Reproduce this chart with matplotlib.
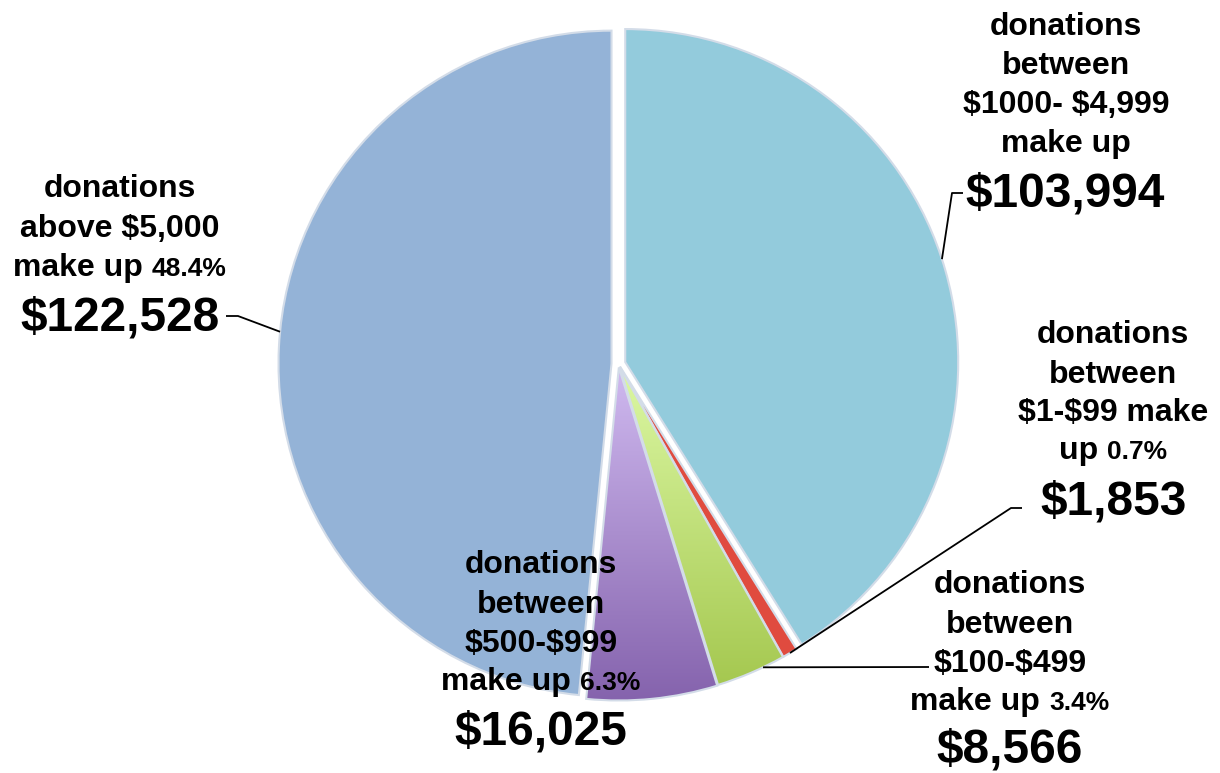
import numpy as np
import matplotlib
matplotlib.use("Agg")
import matplotlib.pyplot as plt
from matplotlib.colors import to_rgb

plt.rcParams['text.parse_math'] = False

# ---------------- data ----------------
ranges = ["$1000- $4,999", "$1-$99", "$100-$499", "$500-$999", "above $5,000"]
amounts = [103994, 1853, 8566, 16025, 122528]
amount_labels = ["$103,994", "$1,853", "$8,566", "$16,025", "$122,528"]

total = sum(amounts)
pct_text = ["%.1f%%" % (100.0 * a / total) for a in amounts]

# ---------------- figure ----------------
W, H = 1220, 773
fig = plt.figure(figsize=(12.2, 7.73), dpi=100)
ax = fig.add_axes([0, 0, 1, 1])


def Y(y):
    return H - y


CX, CY, R = 618.5, Y(364), 333
colors = ['#93CBDC', '#E04B3F', '#C4E27C', '#AD8FD3', '#94B3D7']
explode_px = [7, 3, 3, 3.5, 7]
wedges, _ = ax.pie(amounts, colors=colors, startangle=90, counterclock=False,
                   center=(CX, CY), radius=R, explode=explode_px,
                   wedgeprops=dict(edgecolor='#d3dce8', linewidth=1.5))

# gradient fills for green and purple slices
grads = {2: ('#DCF8A4', '#A5C850'), 3: ('#D0BAF0', '#8563AD')}
for i, (top, bot) in grads.items():
    w = wedges[i]
    ext = w.get_path().get_extents()
    n = 256
    t = np.linspace(0, 1, n)[:, None, None]
    img = (1 - t) * np.array(to_rgb(top))[None, None, :] + t * np.array(to_rgb(bot))[None, None, :]
    im = ax.imshow(img, extent=(ext.x0, ext.x1, ext.y0, ext.y1), origin='upper',
                   aspect='auto', interpolation='bilinear', zorder=w.get_zorder() + 0.5)
    im.set_clip_path(w)
    w.set_zorder(w.get_zorder() + 1)
    w.set_facecolor('none')

ax.set_xlim(0, W)
ax.set_ylim(0, H)
ax.set_aspect('auto')
ax.axis('off')


def edge_point(i, ang):
    w = wedges[i]
    cx, cy = w.center
    a = np.deg2rad(ang)
    return cx + w.r * np.cos(a), cy + w.r * np.sin(a)


def mid_angle(i):
    w = wedges[i]
    return 0.5 * (w.theta1 + w.theta2)


# ---------------- leader lines ----------------
lk = dict(color='black', lw=1.3, zorder=6, solid_capstyle='butt')
p = edge_point(0, 18)
ax.plot([p[0], 952, 963], [p[1], Y(193), Y(193)], **lk)
p = edge_point(4, 174.5)
ax.plot([p[0], 238, 226], [p[1], Y(316), Y(316)], **lk)
p = edge_point(1, mid_angle(1))
ax.plot([p[0], 1011, 1022], [p[1], Y(508), Y(508)], **lk)
p = edge_point(2, -64.5)
ax.plot([p[0], 929], [p[1], Y(667)], **lk)

# ---------------- labels ----------------
FAM = ['Liberation Sans', 'DejaVu Sans']
BODY, PCT, BIG = 23, 19, 34.5
renderer = fig.canvas.get_renderer()


def draw_line(parts, cx, baseline):
    objs = []
    for s, fs in parts:
        objs.append(ax.text(0, Y(baseline), s, fontsize=fs, fontweight='bold',
                            family=FAM, va='baseline', ha='left', color='black',
                            zorder=8, parse_math=False))
    widths = [o.get_window_extent(renderer).width for o in objs]
    gap = 0.28 * BODY * 100 / 72
    tot = sum(widths) + gap * (len(objs) - 1)
    x = cx - tot / 2
    for o, wd in zip(objs, widths):
        o.set_x(x)
        x += wd + gap


def draw_label(lines, cx, baselines, value, vcx, vbase):
    for ln, b in zip(lines, baselines):
        draw_line(ln, cx, b)
    draw_line([(value, BIG)], vcx, vbase)


draw_label([[("donations", BODY)], [("between", BODY)], [(ranges[0], BODY)], [("make up", BODY)]],
           1066, [35, 74, 113, 152], amount_labels[0], 1065, 207)
draw_label([[("donations", BODY)], [("between", BODY)], [(ranges[1] + " make", BODY)],
            [("up", BODY), (pct_text[1], PCT)]],
           1113, [343, 383, 421, 459], amount_labels[1], 1114, 515)
draw_label([[("donations", BODY)], [("between", BODY)], [(ranges[2], BODY)],
            [("make up", BODY), (pct_text[2], PCT)]],
           1010, [593, 633, 672, 710], amount_labels[2], 1010, 763)
draw_label([[("donations", BODY)], [("between", BODY)], [(ranges[3], BODY)],
            [("make up", BODY), (pct_text[3], PCT)]],
           541, [573, 613, 652, 690], amount_labels[3], 541, 744)
draw_label([[("donations", BODY)], [(ranges[4], BODY)],
            [("make up", BODY), (pct_text[4], PCT)]],
           120, [197, 237, 276], amount_labels[4], 120, 330)

fig.savefig("out.png", dpi=100)
